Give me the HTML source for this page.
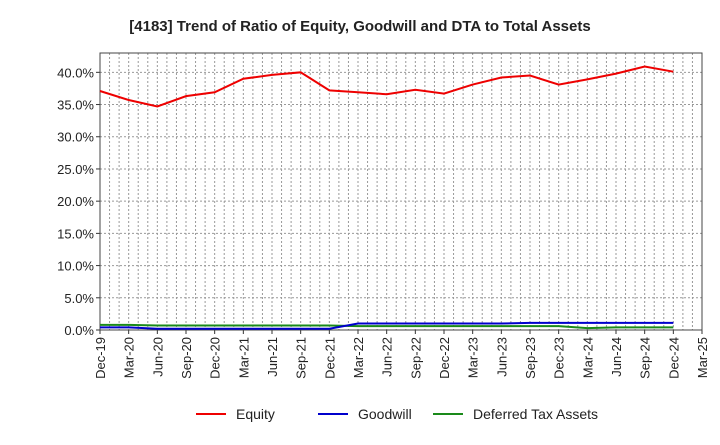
<!DOCTYPE html>
<html><head><meta charset="utf-8"><style>
body{margin:0;background:#fff;font-family:"Liberation Sans",sans-serif}
</style></head><body>
<svg width="720" height="440" xmlns="http://www.w3.org/2000/svg" id="c">
<text x="360" y="31" text-anchor="middle" font-size="15" font-weight="bold" fill="#222">[4183]  Trend of Ratio of Equity, Goodwill and DTA to Total Assets</text>
<g id="grid"></g><g id="axes"></g><g id="series"></g>
<g>
<line x1="196" y1="414" x2="226" y2="414" stroke="#e00" stroke-width="2"/><text x="236" y="419" font-size="14" fill="#222">Equity</text>
<line x1="318" y1="414" x2="348" y2="414" stroke="#00c" stroke-width="2"/><text x="358" y="419" font-size="14" fill="#222">Goodwill</text>
<line x1="433" y1="414" x2="463" y2="414" stroke="#1a8a1a" stroke-width="2"/><text x="473" y="419" font-size="14" fill="#222">Deferred Tax Assets</text>
</g>
</svg>
<script>
const categories=["Dec-19","Mar-20","Jun-20","Sep-20","Dec-20","Mar-21","Jun-21","Sep-21","Dec-21","Mar-22","Jun-22","Sep-22","Dec-22","Mar-23","Jun-23","Sep-23","Dec-23","Mar-24","Jun-24","Sep-24","Dec-24","Mar-25"];
const equity=[37.1,35.7,34.7,36.3,36.9,39.0,39.6,40.0,37.2,36.9,36.6,37.3,36.7,38.1,39.2,39.5,38.1,38.9,39.8,40.9,40.1];
const goodwill=[0.4,0.4,0.2,0.2,0.2,0.2,0.2,0.2,0.2,1.0,1.0,1.0,1.0,1.0,1.0,1.1,1.1,1.1,1.1,1.1,1.1];
const dta=[0.8,0.8,0.7,0.7,0.7,0.7,0.7,0.7,0.7,0.6,0.6,0.6,0.6,0.6,0.6,0.6,0.6,0.3,0.4,0.4,0.4];
const yTicks=[0,5,10,15,20,25,30,35,40];
const L=100,R=702,T=53,B=330,YMAX=43;
const x=i=>L+i*(R-L)/(categories.length-1);
const y=v=>B-v*(B-T)/YMAX;
const NS="http://www.w3.org/2000/svg";
function mk(p,t,a){const e=document.createElementNS(NS,t);for(const k in a)e.setAttribute(k,a[k]);p.appendChild(e);return e;}
const g=document.getElementById('grid'),ax=document.getElementById('axes'),s=document.getElementById('series');
for(let m=1;m<(categories.length-1)*3;m++){const xx=L+m*(R-L)/((categories.length-1)*3);
const l=mk(g,'line',{x1:xx,x2:xx,y1:T,y2:B,stroke:'#999','stroke-dasharray':'2,2','stroke-width':1});

}
yTicks.forEach(v=>{const yy=y(v);
if(v>0){const l=mk(g,'line',{x1:L,x2:R,y1:yy,y2:yy,stroke:'#999','stroke-dasharray':'2,2'});

}
mk(ax,'line',{x1:L-4,x2:L,y1:yy,y2:yy,stroke:'#333'});
const t=mk(ax,'text',{x:L-6,y:yy+5,'text-anchor':'end','font-size':13,fill:'#222'});t.textContent=v.toFixed(1)+'%';

});
categories.forEach((c,i)=>{const xx=x(i);
mk(ax,'line',{x1:xx,x2:xx,y1:B,y2:B+4,stroke:'#333'});
const t=mk(ax,'text',{transform:`translate(${xx+5},${B+7}) rotate(-90)`,'text-anchor':'end','font-size':13,fill:'#222'});t.textContent=c;

});
const fr=mk(ax,'rect',{x:L,y:T,width:R-L,height:B-T,fill:'none',stroke:'#444'});


[[dta,'#1a8a1a','dta-line'],[goodwill,'#00c','goodwill-line'],[equity,'#e00','equity-line']].forEach(([d,c,n])=>{
const p=mk(s,'polyline',{points:d.map((v,i)=>x(i)+','+y(v)).join(' '),fill:'none',stroke:c,'stroke-width':2});

});
</script>
</body></html>
